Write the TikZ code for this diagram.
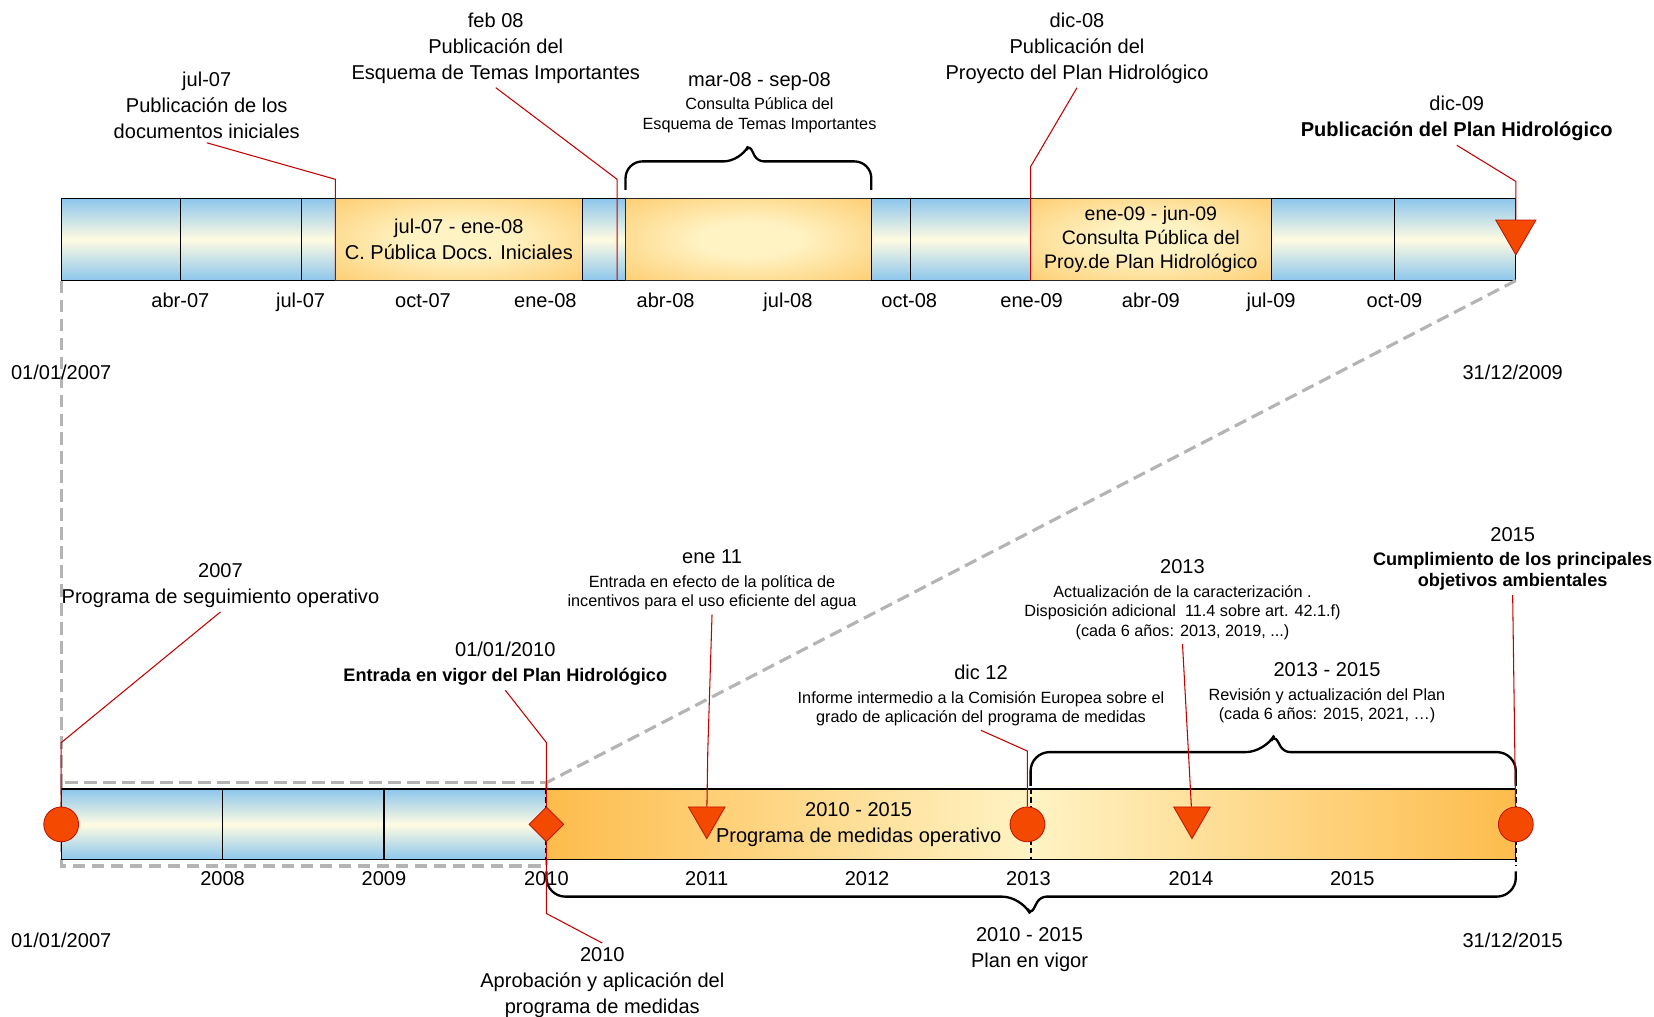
\documentclass[tikz,border=0pt]{standalone}
\usepackage{fontspec}
\setmainfont{Liberation Sans}
\usepackage{tikz}
\usetikzlibrary{calc,positioning,shapes.geometric}

\definecolor{celeste}{RGB}{140,198,236}
\definecolor{crema}{RGB}{255,251,226}
\definecolor{naranja}{RGB}{253,188,76}
\definecolor{naranjaclaro}{RGB}{255,243,196}
\definecolor{rojomarca}{RGB}{243,73,0}
\definecolor{rojoborde}{RGB}{190,20,0}
\definecolor{rojolinea}{RGB}{195,0,0}
\definecolor{gris}{RGB}{180,180,180}

\pgfdeclareradialshading{naranjaradial}{\pgfpoint{0bp}{0bp}}{color(0bp)=(naranjaclaro); color(10bp)=(naranjaclaro); color(48bp)=(naranja); color(50bp)=(naranja)}

\newcommand{\txtgrande}{\fontsize{19}{24.5}\selectfont}
\newcommand{\txtchico}{\fontsize{15.4}{18.5}\selectfont}
\newcommand{\txtnegrita}{\fontsize{17.2}{20}\selectfont\bfseries}

\tikzstyle{tramo} = [rectangle, draw=black, line width=1.1pt, inner sep=0pt, outer sep=0pt, minimum height=78pt, top color=celeste, bottom color=celeste, middle color=crema]
\tikzstyle{consulta} = [rectangle, draw=black!85, line width=1.1pt, inner sep=0pt, outer sep=0pt, minimum height=78pt, shade, shading=naranjaradial, align=center, font=\txtgrande]
\tikzstyle{anio} = [rectangle, draw=black, line width=1.1pt, inner sep=0pt, outer sep=0pt, minimum height=67pt, top color=celeste, bottom color=celeste, middle color=crema]
\tikzstyle{medidas} = [rectangle, draw=black, line width=1.1pt, inner sep=0pt, outer sep=0pt, minimum height=67pt, left color=naranja, right color=naranja, middle color=naranjaclaro]
\tikzstyle{hito} = [align=center, font=\txtgrande, inner sep=4pt, anchor=north]
\tikzstyle{hitochico} = [align=center, font=\txtchico, inner sep=4pt, anchor=north]
\tikzstyle{fecha} = [font=\txtgrande, inner sep=0pt, text height=13.7pt, text depth=0pt]
\tikzstyle{circulo} = [circle, fill=rojomarca, draw=rojoborde, line width=0.8pt, minimum size=33pt, inner sep=0pt]
\tikzstyle{rombo} = [diamond, fill=rojomarca, draw=rojoborde, line width=0.8pt, minimum size=33pt, inner sep=0pt]
\tikzstyle{triangulo} = [regular polygon, regular polygon sides=3, shape border rotate=180, fill=rojomarca, draw=rojoborde, line width=0.8pt, minimum size=40pt, inner sep=0pt]
\tikzstyle{llamada} = [rojolinea, line width=1pt]
\tikzstyle{zoomline} = [gris, line width=3pt, dash pattern=on 12pt off 6pt]
\tikzstyle{llave} = [line width=2.2pt]
\tikzstyle{corte} = [line width=2pt, dash pattern=on 5pt off 3pt]

\begin{document}
\begin{tikzpicture}[x=1pt, y=-1pt]
\useasboundingbox (0,0) rectangle (1568,964);

% zoom 2007-2009
\coordinate (zna) at (58,742);
\coordinate (znb) at (518,821);

% barra 2007 - 2009
\node (ini) [tramo, minimum width=113pt, anchor=west] at (58,227) {};
\node (abr07) [tramo, minimum width=115pt, right=0pt of ini] {};
\node (jul07) [tramo, minimum width=32pt, right=0pt of abr07] {};
\node (cpdocs) [consulta, minimum width=234pt, right=0pt of jul07] {jul-07 - ene-08\\C. Pública Docs. Iniciales};
\node (hueco) [tramo, minimum width=41pt, right=0pt of cpdocs] {};
\node (cpeti) [consulta, minimum width=233pt, right=0pt of hueco] {};
\node (sep08) [tramo, minimum width=37pt, right=0pt of cpeti] {};
\node (oct08) [tramo, minimum width=114pt, right=0pt of sep08] {};
\node (cpproy) [consulta, minimum width=228pt, right=0pt of oct08, font=\fontsize{18.5}{23}\selectfont] {ene-09 - jun-09\\Consulta Pública del\\Proy.de Plan Hidrológico};
\node (jul09) [tramo, minimum width=117pt, right=0pt of cpproy] {};
\node (oct09) [tramo, minimum width=115pt, right=0pt of jul09] {};

\draw[zoomline] (zna) rectangle (znb);
\draw[zoomline] (ini.south west) -- (zna);
\draw[zoomline] (oct09.south east) -- (zna -| znb);

\node (m1) [fecha] at (171,285) {abr-07};
\node (m2) [fecha] at (285,285) {jul-07};
\node (m3) [fecha] at (401,285) {oct-07};
\node (m4) [fecha] at (517,285) {ene-08};
\node (m5) [fecha] at (631,285) {abr-08};
\node (m6) [fecha] at (747,285) {jul-08};
\node (m7) [fecha] at (862,285) {oct-08};
\node (m8) [fecha] at (978,285) {ene-09};
\node (m9) [fecha] at (1091,285) {abr-09};
\node (m10) [fecha] at (1205,285) {jul-09};
\node (m11) [fecha] at (1322,285) {oct-09};
\node (ini07) [fecha] at (58,353) {01/01/2007};
\node (fin09) [fecha] at (1434,353) {31/12/2009};

% barra 2007 - 2015
\node (y2007) [anio, minimum width=153pt, anchor=west] at (58,781.5) {};
\node (y2008) [anio, minimum width=153pt, right=0pt of y2007] {};
\node (y2009) [anio, minimum width=154pt, right=0pt of y2008] {};
\node (pmo) [medidas, minimum width=919pt, right=0pt of y2009] {};
\node (pmotxt) [align=center, font=\txtgrande] at (814,782) {2010 - 2015\\Programa de medidas operativo};

\draw[corte] (pmo.north west) -- (pmo.south west);
\draw[corte] (pmo.north) -- (pmo.south);
\draw[corte] (pmo.north east) -- ($(pmo.south east)+(0,6)$);

\node (a1) [fecha] at (211,833) {2008};
\node (a2) [fecha] at (364,833) {2009};
\node (a3) [fecha] at (518,833) {2010};
\node (a4) [fecha] at (670,833) {2011};
\node (a5) [fecha] at (822,833) {2012};
\node (a6) [fecha] at (975,833) {2013};
\node (a7) [fecha] at (1129,833) {2014};
\node (a8) [fecha] at (1282,833) {2015};
\node (ini07b) [fecha] at (58,891) {01/01/2007};
\node (fin15) [fecha] at (1434,891) {31/12/2015};

% llaves
\draw[llave] (593,180) [rounded corners=16pt] |- (702,153) [rounded corners=6pt] -- (710,137) -- (718,153) [rounded corners=16pt] -| (826,180);
\draw[llave] (977,745) [rounded corners=18pt] |- (1199,713) [rounded corners=6pt] -- (1208,697) -- (1217,713) [rounded corners=18pt] -| (1437,745);
\draw[llave] (518,826) [rounded corners=18pt] |- (968,850) [rounded corners=6pt] -- (977,867) -- (986,850) [rounded corners=18pt] -| (1437,826);

% textos
\node (pubdocs) [hito] at (196,64) {jul-07\\Publicación de los\\documentos iniciales};
\node (pubeti) [hito] at (470,8) {feb 08\\Publicación del\\Esquema de Temas Importantes};
\node (conseti) [hitochico] at (720,65) {{\txtgrande mar-08 - sep-08}\\[3pt]Consulta Pública del\\Esquema de Temas Importantes};
\node (pubproy) [hito] at (1021,8) {dic-08\\Publicación del\\Proyecto del Plan Hidrológico};
\node (pubplan) [hito] at (1381,87) {dic-09\\{\bfseries Publicación del Plan Hidrológico}};

\node (progseg) [hito] at (209,530) {2007\\Programa de seguimiento operativo};
\node (entvigor) [hito] at (479,604) {01/01/2010\\{\txtnegrita Entrada en vigor del Plan Hidrológico}};
\node (efecto) [hitochico] at (675,517) {{\txtgrande ene 11}\\[4pt]Entrada en efecto de la política de\\incentivos para el uso eficiente del agua};
\node (actcar) [hitochico] at (1121,526) {{\txtgrande 2013}\\[4pt]Actualización de la caracterización .\\Disposición adicional\ \ 11.4 sobre art. 42.1.f)\\(cada 6 años: 2013, 2019, ...)};
\node (informe) [hitochico] at (930,626) {{\txtgrande dic 12}\\[4pt]Informe intermedio a la Comisión Europea sobre el\\grado de aplicación del programa de medidas};
\node (revision) [hitochico] at (1258,624) {{\txtgrande 2013 - 2015}\\[4pt]Revisión y actualización del Plan\\(cada 6 años: 2015, 2021, …)};
\node (cumpl) [hito, font=\txtnegrita] at (1434,496) {{\txtgrande\mdseries 2015}\\[3pt]Cumplimiento de los principales\\objetivos ambientales};
\node (aprob) [hito] at (571,894) {2010\\Aprobación y aplicación del\\programa de medidas};
\node (planvigor) [hito] at (976,875) {2010 - 2015\\Plan en vigor};

% marcas
\node (mk07) [circulo] at (y2007.west) {};
\node (mk10) [rombo] at (pmo.west) {};
\node (mk11) [triangulo] at (670,775) {};
\node (mk12) [circulo] at (974,781.5) {};
\node (mk14) [triangulo] at (1130,775) {};
\node (mk15) [circulo] at (pmo.east) {};
\node (mkdic09) [triangulo, minimum size=44pt] at (1437,219.6) {};

\coordinate (b1) at (318,170);
\coordinate (b2) at (585,170);
\coordinate (b3) at (977,158);
\coordinate (b4) at (1437,172);
\coordinate (b5) at (58,704);
\coordinate (b6) at (518,704);
\coordinate (b7) at (518,866);
\coordinate (b8) at (671,711);
\coordinate (b9) at (974,712);

\draw [llamada] (pubdocs.south) -- (b1) -- (cpdocs.south west);
\draw [llamada] (pubeti.south) -- (b2) -- (b2 |- hueco.south);
\draw [llamada] (pubproy.south) -- (b3) -- (cpproy.south west);
\draw [llamada] (pubplan.south) -- (b4) -- (mkdic09);
\draw [llamada] (progseg.south) -- (b5) -- (mk07);
\draw [llamada] (entvigor.south) -- (b6) -- (mk10);
\draw [llamada] (aprob.north) -- (b7) -- (mk10);
\draw [llamada] (efecto.south) -- (b8) -- (mk11);
\draw [llamada] (informe.south) -- (b9) -- (mk12);
\draw [llamada] (actcar.south) -- (mk14);
\draw [llamada] (cumpl.south) -- (mk15);

\end{tikzpicture}
\end{document}
